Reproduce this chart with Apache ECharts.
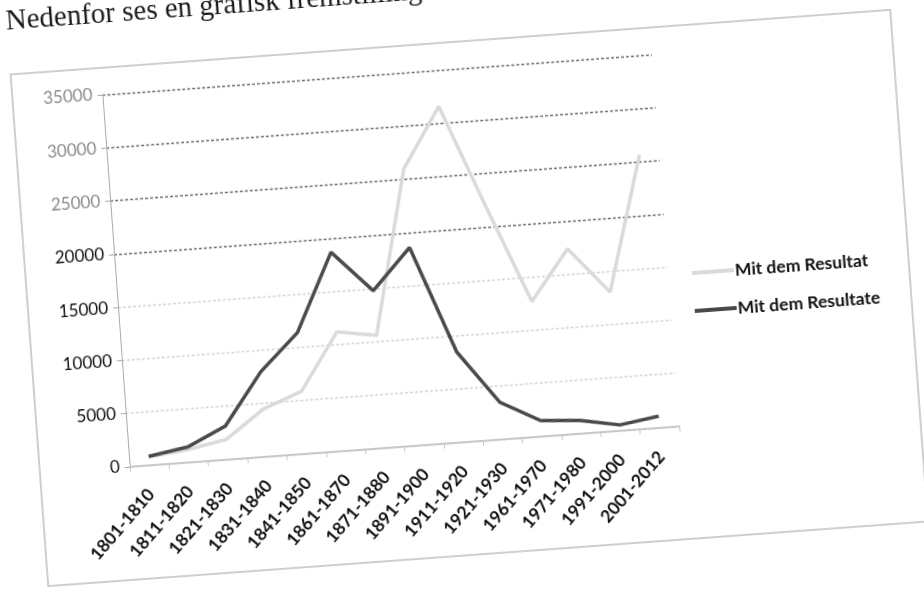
<!DOCTYPE html>
<html>
<head>
<meta charset="utf-8">
<script src="https://cdn.jsdelivr.net/npm/echarts@6/dist/echarts.min.js"></script>
<style>
  html, body { margin:0; padding:0; width:924px; height:590px; overflow:hidden; background:#fff; }
  #chart { position:absolute; left:-40px; top:-60px; width:1004px; height:710px;
           transform: rotate(-4.2deg); transform-origin: 502px 355px; }
</style>
</head>
<body>
<div id="chart"></div>
<script>
const categories = ['1801-1810','1811-1820','1821-1830','1831-1840','1841-1850','1861-1870','1871-1880',
                    '1891-1900','1911-1920','1921-1930','1961-1970','1971-1980','1991-2000','2001-2012'];
const resultat  = [800, 1200, 1900, 4500, 5900, 11200, 10600, 26000, 31600, 22000, 12700, 17400, 13050, 25700];
const resultate = [850, 1450, 3150, 8000, 11400, 18700, 14800, 18600, 8500, 3500, 1500, 1250, 550, 1100];
const seriesNames = ['Mit dem Resultat', 'Mit dem Resultate'];
const yMin = 0, yMax = 35000, yStep = 5000;
const heading = 'Nedenfor ses en grafisk fremstilling';

const chart = echarts.init(document.getElementById('chart'));
chart.setOption({
  animation: false,
  backgroundColor: '#fff',
  graphic: [
    { type: 'rect', shape: { x: 68, y: 102, width: 882, height: 513 },
      style: { fill: 'none', stroke: '#cfcfcf', lineWidth: 2 }, z: 0 },
    { type: 'text', left: 67, top: 35,
      style: { text: heading, font: '29px "Liberation Serif"', fill: '#1a1a1a' } }
  ],
  grid: { left: 158, right: 295, top: 129, bottom: 208, containLabel: false },
  legend: {
    orient: 'vertical', left: 728, top: 336, itemWidth: 42, itemHeight: 4, itemGap: 20,
    icon: 'rect',
    data: seriesNames,
    textStyle: { fontFamily: 'Lato', fontSize: 17.5, color: '#111', fontWeight: 'bold', padding: [0, 0, 0, -4] }
  },
  xAxis: {
    type: 'category', data: categories, boundaryGap: true,
    axisLine: { lineStyle: { color: '#c8c8c8', width: 2 } },
    axisTick: { show: true, length: 5, lineStyle: { color: '#c8c8c8' } },
    axisLabel: { rotate: 45, interval: 0, margin: 26, padding: [6, 0, 0, 0], fontFamily: 'Lato', fontSize: 17.5,
                 fontWeight: 'bold', color: '#111' }
  },
  yAxis: {
    type: 'value', min: yMin, max: yMax, interval: yStep,
    axisLine: { show: true, lineStyle: { color: '#aaa', width: 1 } },
    axisTick: { show: true, length: 5, lineStyle: { color: '#aaa' } },
    axisLabel: { margin: 10, fontFamily: 'Lato', fontSize: 17,
                 formatter: function (v) { return String(v); },
                 color: function (v) { return Number(v) >= 25000 ? '#8a8a8a' : '#111'; } },
    splitLine: { show: true, lineStyle: {
      color: ['#d4d4d4','#d4d4d4','#d4d4d4','#d4d4d4','#6f6f6f','#6f6f6f','#6f6f6f','#6f6f6f'],
      width: 1.3, type: [3, 2] } }
  },
  series: [
    { name: seriesNames[0], type: 'line', data: resultat, symbol: 'none',
      lineStyle: { color: '#dadada', width: 3.5 }, itemStyle: { color: '#dadada' }, z: 2 },
    { name: seriesNames[1], type: 'line', data: resultate, symbol: 'circle', symbolSize: 5,
      showSymbol: false,
      lineStyle: { color: '#4a4a4a', width: 3.5 }, itemStyle: { color: '#4a4a4a' }, z: 3 }
  ]
});
</script>
</body>
</html>
